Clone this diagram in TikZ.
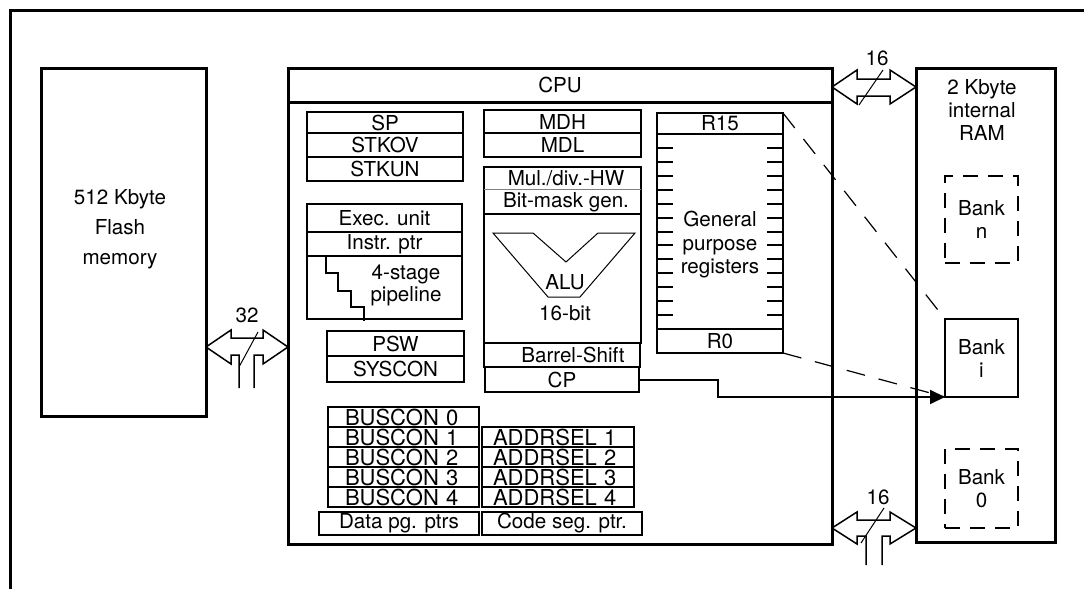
\documentclass[tikz,border=0pt]{standalone}
\usepackage{fontspec}
\setmainfont{TeX Gyre Heros}
\usepackage{tikz}
\usetikzlibrary{arrows.meta, calc}
\newcommand{\blkfont}{\fontsize{10.3}{11.5}\selectfont}
\tikzset{
    membox/.style={rectangle, draw=black, line width=1.5pt, inner sep=0pt,
                   outer sep=0pt, font=\blkfont},
    regbox/.style={rectangle, draw=black, line width=1pt, inner sep=0pt,
                   outer sep=0pt, font=\blkfont},
    bcbox/.style={regbox, text width=58.5pt, inner xsep=8.5pt, align=left,
                  minimum height=10pt, font=\fontsize{11}{11}\selectfont},
    asbox/.style={regbox, text width=65pt, inner xsep=5.5pt, align=left,
                  minimum height=10pt, font=\fontsize{11}{11}\selectfont},
    bankbox/.style={rectangle, draw=black, line width=1pt, inner sep=0pt,
                    outer sep=0pt, minimum width=36.5pt, align=center, font=\blkfont},
    hidden/.style={dash pattern=on 7.5pt off 5pt},
    txt/.style={inner sep=0pt, outer sep=0pt, align=center, font=\blkfont},
    regline/.style={line width=1pt},
    bus/.style={draw=black, line width=0.75pt, line join=miter},
    busslash/.style={line width=0.5pt},
    window/.style={line width=0.6pt, dash pattern=on 9.5pt off 7pt},
    frame/.style={line width=1.5pt},
    arr/.style={-{Triangle[length=7.5pt, width=7pt]}, line width=1pt}
}

\begin{document}
\begin{tikzpicture}[x=0.5pt, y=-0.5pt]
\useasboundingbox (0,0) rectangle (1084,589);

% ── Frame ─────────────────────────────────────────────────────────────
\draw[frame] (10,589) -- (10,10) -- (1084,10);

% ── Memories ──────────────────────────────────────────────────────────
\node[membox, minimum width=82.5pt, minimum height=174pt] at (123.5,242) (flash) {};
\node[txt, font=\fontsize{10.3}{15}\selectfont] at (120,229) (flashtxt) {512 Kbyte\\Flash\\memory};

\node[membox, minimum width=69.5pt, minimum height=237pt] at (985.5,305) (ram) {};
\node[txt] at (982,110) (ramtxt) {2 Kbyte\\internal\\RAM};
\node[bankbox, hidden, minimum height=43.5pt] at (981.5,219.5) (bankn) {Bank\\n};
\node[bankbox, minimum height=39pt]           at (981.5,358)   (banki) {Bank\\i};
\node[bankbox, hidden, minimum height=39.5pt] at (981.5,488.5) (bank0) {Bank\\0};

% ── CPU ───────────────────────────────────────────────────────────────
\node[membox, minimum width=272pt, minimum height=238pt] at (560,306) (cpu) {};
\node[membox, minimum width=272pt, minimum height=17pt] at (560,85) (cpuhead) {CPU};

% ── Stack registers ───────────────────────────────────────────────────
\node[regbox, minimum width=78pt, minimum height=10.5pt] at (385,122.5) (sp)    {SP};
\node[regbox, minimum width=78pt, minimum height=12pt]   at (385,145)   (stkov) {STKOV};
\node[regbox, minimum width=78pt, minimum height=12pt]   at (385,169)   (stkun) {STKUN};

% ── Execution unit ────────────────────────────────────────────────────
\node[regbox, minimum width=77.5pt, minimum height=14pt]   at (384.5,218)   (exec)  {Exec. unit};
\node[regbox, minimum width=77.5pt, minimum height=12pt]   at (384.5,244)   (iptr)  {Instr. ptr};
\node[regbox, minimum width=77.5pt, minimum height=31.5pt] at (384.5,287.5) (pipe)  {};
\node[txt, font=\fontsize{10.3}{9.5}\selectfont] at (406,285.5) (pipetxt) {4-stage\\pipeline};
\draw[regline] ([xshift=9.5pt]pipe.north west) -- ++(0,17) -- ++(12,0) -- ++(0,18)
    -- ++(13,0) -- ++(0,16) -- ++(13,0) -- ++(0,14);

\node[regbox, minimum width=68.5pt, minimum height=12.5pt] at (395.5,343.5) (psw)    {PSW};
\node[regbox, minimum width=68.5pt, minimum height=13pt]   at (395.5,369)   (syscon) {SYSCON};

% ── Bus control ───────────────────────────────────────────────────────
\foreach \k/\yy in {0/417, 1/437, 2/457, 3/477, 4/497}
    \node[bcbox] at (403.5,\yy) (bc\k) {BUSCON \k};
\foreach \k/\yy in {1/437, 2/457, 3/477, 4/497}
    \node[asbox] at (558,\yy) (as\k) {ADDRSEL \k};

\node[regbox, minimum width=80pt, minimum height=11.5pt] at (399,523.5) (dpp) {Data pg. ptrs};
\node[regbox, minimum width=80pt, minimum height=11.5pt] at (562,523.5) (csp) {Code seg. ptr.};

% ── MD registers and ALU ──────────────────────────────────────────────
\node[regbox, minimum width=78.5pt, minimum height=11.5pt] at (562.5,121.5) (mdh) {MDH};
\node[regbox, minimum width=78.5pt, minimum height=12pt]   at (562.5,145)   (mdl) {MDL};

\node[regbox, minimum width=78.5pt, minimum height=88pt] at (562.5,255) (alucol) {};
\node[txt] at (566,178) (muldiv)  {Mul./div.-HW};
\node[txt] at (566,202) (bitmask) {Bit-mask gen.};
\draw[line width=0.5pt, gray] (alucol.west |- 0,189) -- (alucol.east |- 0,189);
\draw[regline] (alucol.west |- 0,214) -- (alucol.east |- 0,214);
\draw[line width=0.5pt] (493,233) -- (533,233) -- (566,262) -- (598,233) -- (635,233)
    -- (580,297) -- (548,297) -- cycle;
\node[txt] at (565,282) (alu)   {ALU};
\node[txt] at (565,313) (width) {16-bit};

\node[regbox, minimum width=78pt, minimum height=12pt]   at (562,355)   (barrel) {\hspace{11pt}Barrel-Shift};
\node[regbox, minimum width=77pt, minimum height=12.5pt] at (562,379.5) (cp)     {CP};

% ── General purpose registers ─────────────────────────────────────────
\node[regbox, minimum width=63pt, minimum height=10.5pt] at (720,123.5) (gprtop)  {R15};
\node[regbox, minimum width=63pt, minimum height=97.5pt] at (720,231.5) (gprbody) {};
\node[regbox, minimum width=63pt, minimum height=12pt]   at (720,341)   (gprbot)  {R0};
\node[txt, font=\fontsize{10.3}{11.75}\selectfont] at (720,245) (gprtxt) {General\\purpose\\registers};
\foreach \k in {1,...,13} {
    \draw[regline] ([yshift=-\k*6.965pt]gprbody.north west) -- ++(16,0);
    \draw[regline] ([yshift=-\k*6.965pt]gprbody.north east) -- ++(-16,0);
}

% ── Register bank window ──────────────────────────────────────────────
\draw[window] (gprtop.north east) -- (banki.north west);
\draw[window] (gprbot.south east) -- (banki.south west);
\draw[arr] (cp.east) -- ++(79,0) |- (banki.south west);

% ── Buses ─────────────────────────────────────────────────────────────
\coordinate (b32w) at (flash.east |- 0,347);
\coordinate (b32e) at (cpu.west |- 0,347);
\draw[bus] (b32w) -- ++(25,-17) -- ++(0,8) -- ++(32,0) -- ++(0,-8) -- (b32e)
    -- ++(-25,17) -- ++(0,-9) -- ++(-9,0) -- ++(0,33);
\draw[bus] (b32w) -- ++(25,17) -- ++(0,-9) -- ++(8,0) -- ++(0,33);
\draw[busslash] (b32w) ++(52,-15) -- ++(-19,35);
\node[txt] at (247,315) (w32) {32};

\coordinate (b16tw) at (cpu.east |- 0,87);
\coordinate (b16te) at (ram.west |- 0,87);
\draw[bus] (b16tw) -- ++(25,-17) -- ++(0,9) -- ++(33,0) -- ++(0,-9) -- (b16te)
    -- ++(-26,17) -- ++(0,-8) -- ++(-33,0) -- ++(0,8) -- cycle;
\draw[busslash] (b16tw) ++(51,-17) -- ++(-24,35);
\node[txt] at (877,58) (w16t) {16};

\coordinate (b16bw) at (cpu.east |- 0,528);
\coordinate (b16be) at (ram.west |- 0,528);
\draw[bus] (b16bw) -- ++(25,-16) -- ++(0,8) -- ++(33,0) -- ++(0,-8) -- (b16be)
    -- ++(-26,16) -- ++(0,-8) -- ++(-8,0) -- ++(0,29);
\draw[bus] (b16bw) -- ++(25,16) -- ++(0,-8) -- ++(9,0) -- ++(0,29);
\draw[busslash] (b16bw) ++(52,-20) -- ++(-23,35);
\node[txt] at (878,497) (w16b) {16};
\end{tikzpicture}
\end{document}
